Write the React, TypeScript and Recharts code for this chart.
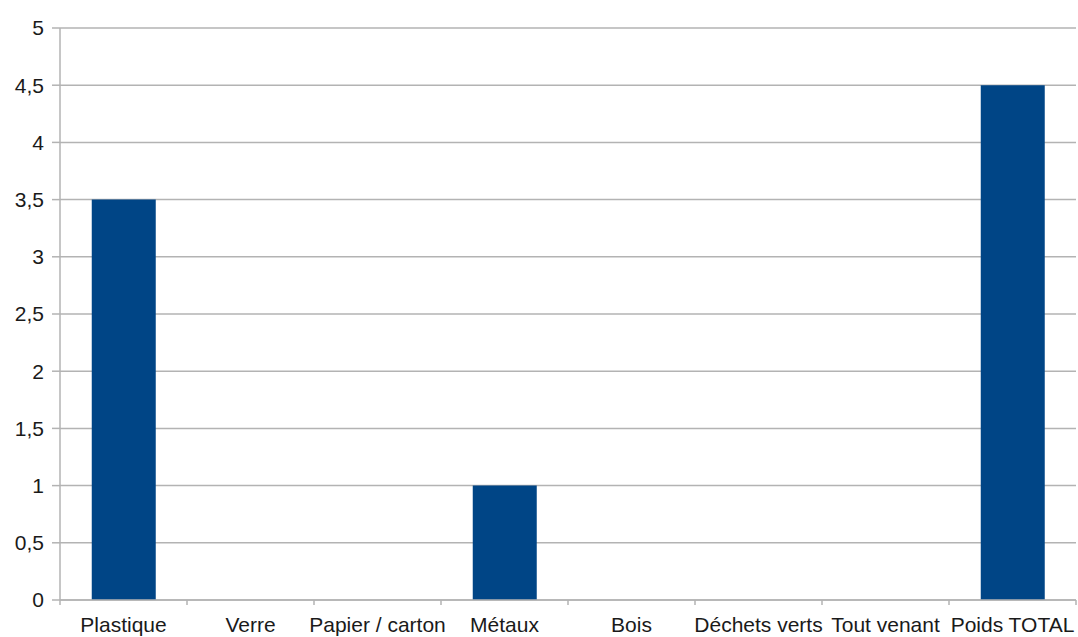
import React from "react";
import { BarChart, Bar, XAxis, YAxis, CartesianGrid } from "recharts";

const categories = ["Plastique", "Verre", "Papier / carton", "Métaux", "Bois", "Déchets verts", "Tout venant", "Poids TOTAL"];
const values: (number | null)[] = [3.5, null, null, 1, null, null, null, 4.5];
const yTicks = [0, 0.5, 1, 1.5, 2, 2.5, 3, 3.5, 4, 4.5, 5];

const data = categories.map((name, i) => ({ name, value: values[i] }));

const font = "'Liberation Sans', Arial, sans-serif";
const gridColor = "#b3b3b3";
const textStyle = { fontSize: 21, fill: "#1a1a1a", fontFamily: font };
const TICK_MARGIN = 17;
const TICK_LEN = 5;

function CatTick(props: any) {
  const { x, y, payload, index } = props;
  const half = payload?.offset ?? 0;
  const axisY = y - TICK_MARGIN;
  const last = index === categories.length - 1;
  return (
    <g>
      <line x1={x - half} x2={x - half} y1={axisY} y2={axisY + TICK_LEN} stroke={gridColor} strokeWidth={1.5} />
      {last && (
        <line x1={x + half} x2={x + half} y1={axisY} y2={axisY + TICK_LEN} stroke={gridColor} strokeWidth={1.5} />
      )}
      <text x={x} y={y} dy="0.71em" textAnchor="middle" {...textStyle}>
        {payload.value}
      </text>
    </g>
  );
}

export default function App() {
  return (
    <div style={{ width: 1078, height: 637, background: "#fff" }}>
      <style>{`body{margin:0;}`}</style>
      <BarChart
        width={1078}
        height={637}
        data={data}
        margin={{ top: 28, right: 2, bottom: 0, left: 0 }}
        barCategoryGap="25%"
      >
        <CartesianGrid vertical={false} stroke={gridColor} strokeWidth={1.5} />
        <XAxis
          dataKey="name"
          height={37}
          tickSize={0}
          tickMargin={TICK_MARGIN}
          axisLine={{ stroke: gridColor, strokeWidth: 1.5 }}
          tickLine={false}
          interval={0}
          tick={<CatTick />}
        />
        <YAxis
          domain={[0, 5]}
          ticks={yTicks}
          width={60}
          tickSize={8}
          tickMargin={8}
          interval={0}
          axisLine={{ stroke: gridColor, strokeWidth: 1.5 }}
          tickLine={{ stroke: gridColor, strokeWidth: 1.5 }}
          tick={textStyle}
          tickFormatter={(v: number) => String(v).replace(".", ",")}
        />
        <Bar dataKey="value" fill="#004586" isAnimationActive={false} />
      </BarChart>
    </div>
  );
}
